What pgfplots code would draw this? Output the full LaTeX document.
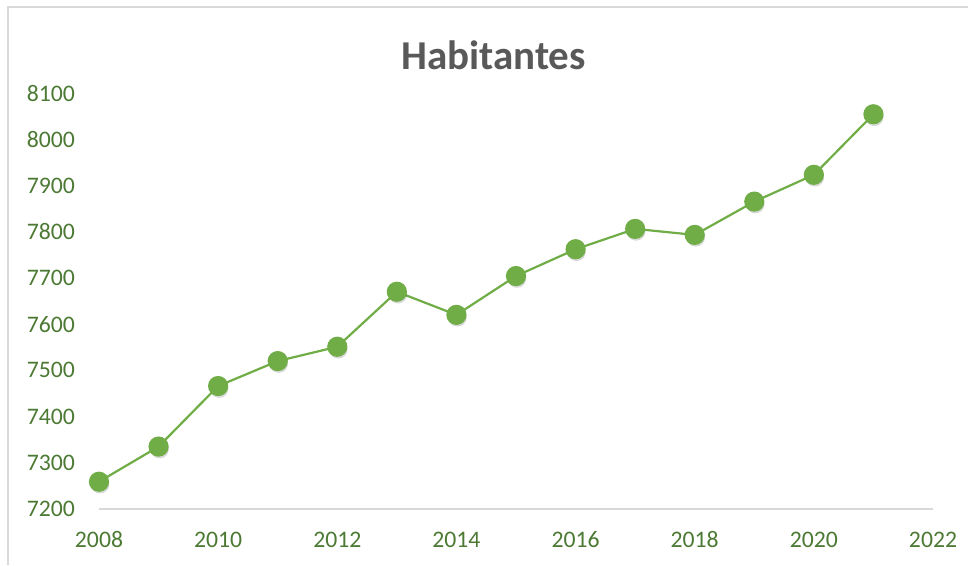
\documentclass[border=0pt]{standalone}
\usepackage{fontspec}
\setmainfont{Carlito}
\usepackage{pgfplots}
\pgfplotsset{compat=1.18}
\definecolor{linegreen}{HTML}{70AD47}
\definecolor{labelgreen}{HTML}{4C7A34}
\definecolor{titlegray}{HTML}{595959}
\definecolor{framegray}{HTML}{D9D9D9}

\pgfplotstableread{
year pop
2008 7259
2009 7335
2010 7466
2011 7520
2012 7551
2013 7670
2014 7620
2015 7704
2016 7762
2017 7806
2018 7793
2019 7865
2020 7923
2021 8054
}\habitantes

\begin{document}
\begin{tikzpicture}[x=1pt,y=1pt]
\useasboundingbox (0,0) rectangle (968,565);
\draw[framegray, line width=2pt] (8,0) -- (8,558) -- (968,558);
\node[titlegray, font=\fontsize{41}{45}\selectfont\bfseries] at (493.5,510) {Habitantes};
\begin{axis}[
  at={(99pt,56pt)}, anchor=south west,
  scale only axis, width=834pt, height=416pt,
  xmin=2008, xmax=2022, ymin=7200, ymax=8100,
  xtick={2008,2010,2012,2014,2016,2018,2020,2022},
  ytick={7200,7300,7400,7500,7600,7700,7800,7900,8000,8100},
  axis x line=bottom, axis y line=left,
  hide obscured x ticks=false, hide obscured y ticks=false,
  x axis line style={draw=framegray, line width=2pt, -},
  y axis line style={draw=none},
  major tick length=0pt,
  /pgf/number format/set thousands separator={},
  /pgf/number format/assume math mode=true,
  tick label style={labelgreen, font=\fontsize{23.7}{26}\selectfont, inner sep=0pt},
  yticklabel style={anchor=east, xshift=-24pt},
  xticklabel style={anchor=base, yshift=-38pt},
  clip=false,
]
% soft shadow under the markers
\addplot[only marks, mark=*, mark size=9pt,
  mark options={fill=black, draw=none, opacity=0.13, xshift=1pt, yshift=-2.5pt}]
  table[x=year, y=pop] {\habitantes};
\addplot[linegreen, line width=2.2pt, mark=*, mark size=9pt,
  mark options={fill=linegreen, draw=none}] table[x=year, y=pop] {\habitantes};
\end{axis}
\end{tikzpicture}
\end{document}
